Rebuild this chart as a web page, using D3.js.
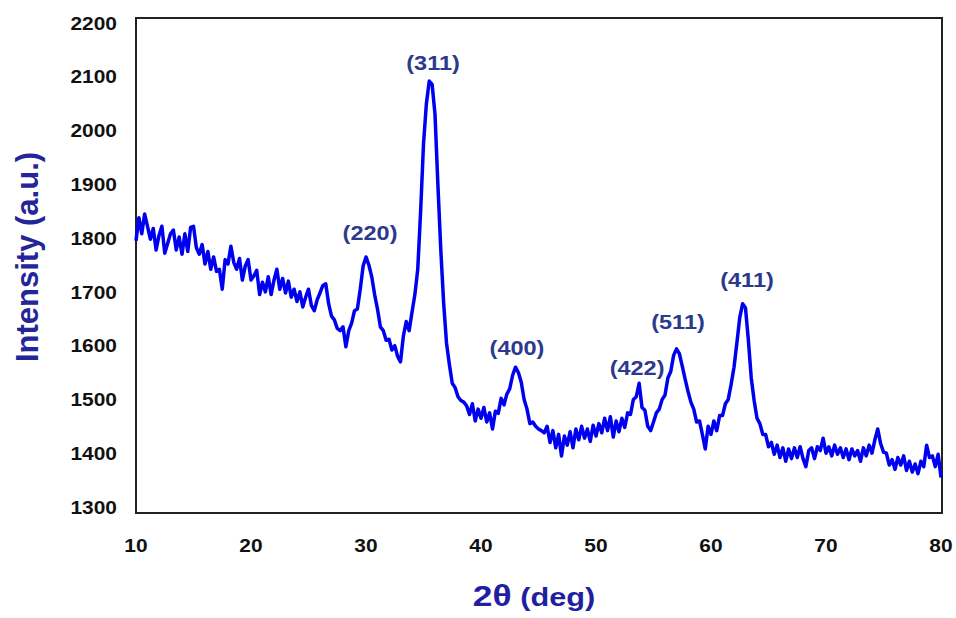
<!doctype html>
<html lang="en">
<head>
<meta charset="utf-8">
<title>XRD pattern</title>
<script src="https://cdn.jsdelivr.net/npm/d3@7"></script>
<style>
  body { margin: 0; background: #fff; }
  text { font-family: "Liberation Sans", Arial, sans-serif; }
</style>
</head>
<body>
<svg id="chart" width="956" height="618"></svg>
<script>
// 2-theta positions (deg) and measured intensity (a.u.)
const twoTheta = [
  10.00,10.25,10.50,10.75,11.00,11.25,11.50,11.75,12.00,12.25,12.50,12.75,13.00,13.25,13.50,13.75,
  14.00,14.25,14.50,14.75,15.00,15.25,15.50,15.75,16.00,16.25,16.50,16.75,17.00,17.25,17.50,17.75,
  18.00,18.25,18.50,18.75,19.00,19.25,19.50,19.75,20.00,20.25,20.50,20.75,21.00,21.25,21.50,21.75,
  22.00,22.25,22.50,22.75,23.00,23.25,23.50,23.75,24.00,24.25,24.50,24.75,25.00,25.25,25.50,25.75,
  26.00,26.25,26.50,26.75,27.00,27.25,27.50,27.75,28.00,28.25,28.50,28.75,29.00,29.25,29.50,29.75,
  30.00,30.25,30.50,30.75,31.00,31.25,31.50,31.75,32.00,32.25,32.50,32.75,33.00,33.25,33.50,33.75,
  34.00,34.25,34.50,34.75,35.00,35.25,35.50,35.75,36.00,36.25,36.50,36.75,37.00,37.25,37.50,37.75,
  38.00,38.25,38.50,38.75,39.00,39.25,39.50,39.75,40.00,40.25,40.50,40.75,41.00,41.25,41.50,41.75,
  42.00,42.25,42.50,42.75,43.00,43.25,43.50,43.75,44.00,44.25,44.50,44.75,45.00,45.25,45.50,45.75,
  46.00,46.25,46.50,46.75,47.00,47.25,47.50,47.75,48.00,48.25,48.50,48.75,49.00,49.25,49.50,49.75,
  50.00,50.25,50.50,50.75,51.00,51.25,51.50,51.75,52.00,52.25,52.50,52.75,53.00,53.25,53.50,53.75,
  54.00,54.25,54.50,54.75,55.00,55.25,55.50,55.75,56.00,56.25,56.50,56.75,57.00,57.25,57.50,57.75,
  58.00,58.25,58.50,58.75,59.00,59.25,59.50,59.75,60.00,60.25,60.50,60.75,61.00,61.25,61.50,61.75,
  62.00,62.25,62.50,62.75,63.00,63.25,63.50,63.75,64.00,64.25,64.50,64.75,65.00,65.25,65.50,65.75,
  66.00,66.25,66.50,66.75,67.00,67.25,67.50,67.75,68.00,68.25,68.50,68.75,69.00,69.25,69.50,69.75,
  70.00,70.25,70.50,70.75,71.00,71.25,71.50,71.75,72.00,72.25,72.50,72.75,73.00,73.25,73.50,73.75,
  74.00,74.25,74.50,74.75,75.00,75.25,75.50,75.75,76.00,76.25,76.50,76.75,77.00,77.25,77.50,77.75,
  78.00,78.25,78.50,78.75,79.00,79.25,79.50,79.75,80.00
];
const intensity = [
  1795,1838,1808,1845,1822,1798,1818,1778,1805,1822,1772,1790,1808,1815,1778,1802,
  1770,1808,1775,1820,1822,1782,1770,1788,1752,1775,1742,1765,1738,1742,1705,1760,
  1752,1785,1755,1742,1762,1722,1748,1760,1722,1730,1740,1695,1718,1700,1728,1695,
  1722,1742,1705,1725,1698,1720,1690,1705,1682,1700,1672,1690,1705,1675,1665,1685,
  1698,1712,1715,1678,1655,1648,1632,1628,1635,1598,1628,1642,1665,1668,1705,1748,
  1765,1750,1728,1695,1668,1635,1628,1610,1612,1592,1600,1580,1570,1618,1645,1628,
  1662,1695,1742,1850,1975,2050,2092,2086,2030,1900,1780,1680,1605,1565,1530,1522,
  1505,1498,1495,1488,1472,1492,1460,1482,1465,1485,1458,1475,1445,1478,1474,1502,
  1490,1510,1520,1545,1560,1550,1532,1500,1482,1455,1458,1450,1445,1442,1438,1450,
  1420,1442,1410,1435,1395,1432,1415,1440,1410,1445,1425,1450,1428,1445,1422,1452,
  1432,1455,1438,1465,1442,1468,1430,1460,1440,1465,1448,1475,1472,1500,1505,1530,
  1485,1480,1450,1442,1458,1475,1482,1500,1508,1540,1552,1582,1594,1585,1562,1538,
  1515,1495,1482,1458,1460,1435,1408,1450,1435,1460,1442,1470,1470,1492,1500,1528,
  1560,1605,1652,1678,1670,1610,1540,1498,1465,1455,1435,1435,1412,1420,1398,1415,
  1392,1410,1385,1408,1390,1410,1392,1412,1390,1375,1405,1410,1390,1412,1405,1428,
  1400,1412,1395,1415,1398,1410,1392,1408,1388,1408,1395,1405,1385,1410,1395,1415,
  1400,1425,1445,1418,1402,1400,1378,1388,1370,1392,1378,1395,1368,1385,1365,1380,
  1362,1385,1375,1415,1392,1395,1375,1398,1355
];

const xTicks = [10, 20, 30, 40, 50, 60, 70, 80];
const yTicks = [1300, 1400, 1500, 1600, 1700, 1800, 1900, 2000, 2100, 2200];

// Miller index labels and where they sit (2theta, intensity)
const peakLabels = ["(220)", "(311)", "(400)", "(422)", "(511)", "(411)"];
const peakLabelTheta = [30.35, 35.83, 43.13, 53.57, 57.13, 63.13];
const peakLabelIntensity = [1810, 2126, 1597, 1560, 1644, 1722];

const svg = d3.select("#chart");

const x = d3.scaleLinear().domain([10, 80]).range([136, 941]);
const y = d3.scaleLinear().domain([1300, 2200]).range([507, 23]);

// plot frame
svg.append("rect")
  .attr("x", 136).attr("y", 18)
  .attr("width", 942 - 136).attr("height", 513 - 18)
  .attr("fill", "none")
  .attr("stroke", "#222")
  .attr("stroke-width", 2);

// tick labels (source font is a little wide, hence the x-stretch)
svg.append("g").selectAll("text")
  .data(yTicks)
  .join("text")
  .attr("transform", d => `translate(117,${y(d)}) scale(1.1,1)`)
  .attr("dy", "0.35em")
  .attr("text-anchor", "end")
  .attr("font-size", 19)
  .attr("font-weight", "bold")
  .attr("fill", "#111")
  .text(d => d);

svg.append("g").selectAll("text")
  .data(xTicks)
  .join("text")
  .attr("transform", d => `translate(${x(d)},545) scale(1.1,1)`)
  .attr("dy", "0.35em")
  .attr("text-anchor", "middle")
  .attr("font-size", 19)
  .attr("font-weight", "bold")
  .attr("fill", "#111")
  .text(d => d);

// the pattern
const line = d3.line()
  .x(d => x(d[0]))
  .y(d => y(d[1]));

svg.append("path")
  .datum(d3.zip(twoTheta, intensity))
  .attr("d", line)
  .attr("fill", "none")
  .attr("stroke", "#0000f0")
  .attr("stroke-width", 3.5)
  .attr("stroke-linejoin", "round");

// peak labels
svg.append("g").selectAll("text")
  .data(peakLabels)
  .join("text")
  .attr("transform", (d, i) => `translate(${x(peakLabelTheta[i])},${y(peakLabelIntensity[i])}) scale(1.12,1)`)
  .attr("dy", "0.35em")
  .attr("text-anchor", "middle")
  .attr("font-size", 21)
  .attr("font-weight", "bold")
  .attr("fill", "#2b3a8c")
  .text(d => d);

// axis titles
svg.append("text")
  .attr("transform", "translate(27,257) rotate(-90)")
  .attr("dy", "0.35em")
  .attr("text-anchor", "middle")
  .attr("font-size", 31)
  .attr("font-weight", "bold")
  .attr("fill", "#25259a")
  .text("Intensity (a.u.)");

const xt = svg.append("text")
  .attr("transform", "translate(534,600) scale(1.18,1)")
  .attr("dy", "0.35em")
  .attr("text-anchor", "middle")
  .attr("font-weight", "bold")
  .attr("fill", "#1f1fa0");
xt.append("tspan").attr("font-size", 30).text("2θ");
xt.append("tspan").attr("font-size", 26).text(" (deg)");
</script>
</body>
</html>
